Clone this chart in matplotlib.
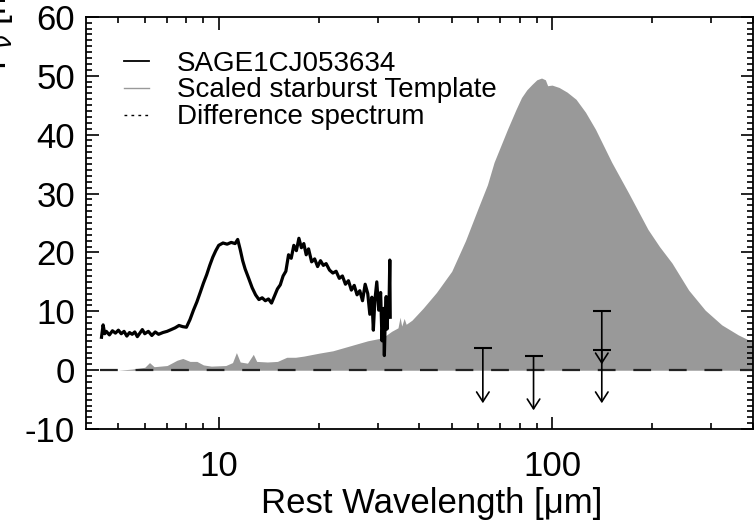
import matplotlib
matplotlib.use('Agg')
import matplotlib.pyplot as plt
from matplotlib.lines import Line2D
from matplotlib.ticker import MultipleLocator, FixedLocator, NullFormatter

plt.rcParams['font.family'] = ['Liberation Sans', 'DejaVu Sans']
plt.rcParams['axes.unicode_minus'] = False

# observed IRS spectrum
spec_wave = [4.45, 4.5, 4.55, 4.6, 4.7, 4.8, 4.9, 5.0, 5.1, 5.2, 5.3, 5.4, 5.5, 5.6, 5.7, 5.8,
             5.9, 6.0, 6.15, 6.3, 6.45, 6.6, 6.8, 7.0, 7.2, 7.4, 7.6, 7.8, 8.0, 8.2, 8.4, 8.6,
             8.8, 9.0, 9.2, 9.4, 9.6, 9.8, 10.0, 10.3, 10.6, 10.9, 11.2, 11.4, 11.6, 11.8, 12.0,
             12.3, 12.6, 12.9, 13.2, 13.5, 13.8, 14.1, 14.4, 14.7, 15.0, 15.3, 15.6, 15.9, 16.2,
             16.5, 16.8, 17.1, 17.4, 17.7, 18.0, 18.3, 18.6, 19.0, 19.4, 19.8, 20.2, 20.6, 21.0,
             21.5, 22.0, 22.5, 23.0, 23.5, 24.0, 24.5, 25.0, 25.5, 26.0, 26.5, 27.0, 27.5, 28.0,
             28.4, 28.8, 29.1, 29.4, 29.8, 30.2, 30.6, 30.9, 31.2, 31.4, 31.6, 31.8, 32.0, 32.2,
             32.4, 32.6, 32.7]
spec_flux = [5.6, 7.7, 6.2, 6.6, 6.0, 6.7, 6.3, 6.8, 6.2, 6.6, 5.8, 6.4, 6.1, 6.5, 5.7, 6.3,
             6.9, 6.2, 6.6, 5.9, 6.5, 6.1, 6.4, 6.6, 6.9, 7.2, 7.6, 7.4, 7.3, 8.6, 10.2, 11.6,
             13.2, 14.8, 16.2, 17.8, 19.2, 20.3, 21.2, 21.6, 21.4, 21.7, 21.5, 22.2, 20.5, 18.6,
             17.2, 15.6, 14.0, 12.8, 12.0, 12.3, 11.8, 12.1, 11.4, 12.6, 13.8, 14.5, 16.0, 16.8,
             19.6, 19.0, 21.2, 20.3, 22.4, 20.8, 21.5, 19.6, 20.6, 18.4, 18.9, 17.6, 18.6, 17.8,
             18.1, 17.0, 16.5, 16.8, 15.6, 16.0, 14.6, 15.2, 13.6, 14.4, 12.8, 13.5, 11.8, 14.6,
             13.0, 9.5, 12.4, 6.8, 11.8, 15.0, 10.2, 13.2, 5.0, 10.5, 2.5, 9.0, 12.5, 7.0, 11.0,
             9.5, 18.7, 9.0]

# scaled starburst template
tmpl_wave = [5.0, 5.5, 6.0, 6.2, 6.4, 7.0, 7.5, 7.8, 8.2, 8.6, 9.0, 9.5, 10.5, 11.0, 11.3,
             11.6, 12.2, 12.7, 13.0, 14.0, 15.0, 16.0, 17.0, 18.0, 20.0, 22.0, 25.0, 28.0,
             31.0, 33.0, 34.5, 35.0, 35.4, 36.0, 36.5, 38.0, 41.0, 45.0, 50.0, 55.0, 60.0,
             64.0, 67.0, 73.5, 78.0, 81.0, 84.0, 87.0, 90.0, 93.0, 95.5, 97.0, 100.0, 105.0,
             111.0, 118.0, 126.0, 135.0, 151.0, 170.0, 194.0, 210.0, 229.0, 257.0, 288.0,
             323.0, 362.0, 400.0]
tmpl_flux = [0.0, 0.2, 0.5, 1.3, 0.6, 0.8, 1.7, 2.0, 1.5, 1.5, 0.9, 0.7, 0.8, 1.3, 3.0,
             1.4, 1.2, 2.7, 1.5, 1.4, 1.5, 2.2, 2.2, 2.4, 2.9, 3.3, 4.2, 5.0,
             5.5, 6.6, 7.2, 9.0, 7.5, 8.8, 7.8, 8.5, 10.5, 13.2, 16.8, 22.0, 27.5,
             31.5, 35.3, 40.9, 44.3, 46.3, 47.6, 48.5, 49.3, 49.6, 49.3, 48.3, 48.4, 48.0,
             47.2, 46.0, 43.8, 40.9, 35.3, 30.0, 23.9, 21.0, 18.2, 13.6, 10.2,
             7.7, 6.0, 4.8]

# difference spectrum (~0 across the range)
diff_wave = [4.4, 400.0]
diff_flux = [0.0, 0.0]

# upper limits (photometry minus template)
ul_wave = [62.0, 88.0, 141.0, 141.0]
ul_top = [3.7, 2.4, 10.0, 3.4]
ul_tip = [-5.6, -6.8, -5.6, 1.0]

fig = plt.figure(figsize=(7.55, 5.24), dpi=100)
ax = fig.add_axes([0.114, 0.181, 0.883, 0.787])

ax.fill_between(tmpl_wave, 0, tmpl_flux, color='#999999', lw=0, zorder=1)
ax.plot(spec_wave, spec_flux, color='black', lw=2.3, zorder=3)
ax.plot(diff_wave, diff_flux, color='#222222', lw=1.6, dashes=(8, 8), zorder=2)

for w, top, tip in zip(ul_wave, ul_top, ul_tip):
    ax.annotate('', xy=(w, tip), xytext=(w, top),
                arrowprops=dict(arrowstyle='->,head_length=0.7,head_width=0.45',
                                color='black', lw=1.2, shrinkA=0, shrinkB=0), zorder=4)
ax.plot(ul_wave, ul_top, ls='none', marker='_', ms=13, mew=1.5, color='black', zorder=4)

ax.set_xscale('log')
ax.set_xlim(4, 400)
ax.set_ylim(-10, 60)
ax.set_xticks([10, 100])
ax.set_xticklabels(['10', '100'])
ax.xaxis.set_minor_locator(FixedLocator([5, 6, 7, 8, 9, 20, 30, 40, 50, 60, 70, 80, 90, 200, 300, 400]))
ax.xaxis.set_minor_formatter(NullFormatter())
ax.yaxis.set_major_locator(MultipleLocator(10))
ax.yaxis.set_minor_locator(MultipleLocator(1))

ax.tick_params(which='both', direction='in', top=True, right=True, width=1.2, labelsize=25)
ax.tick_params(which='major', length=9)
ax.tick_params(which='minor', length=4.5)
ax.tick_params(axis='x', which='major', pad=15)
ax.tick_params(axis='y', which='major', pad=8)
for s in ax.spines.values():
    s.set_linewidth(1.3)

ax.set_xlabel('Rest Wavelength [\u03bcm]', fontsize=25, labelpad=3)
ax.xaxis.label.set_x(0.519)
fig.text(-0.004, 1 - 70 / 524, r'F$_\nu$ [mJy]', rotation=90, ha='center', va='bottom', fontsize=25)

handles = [Line2D([], [], color='black', lw=1.3),
           Line2D([], [], color='#999999', lw=1.0),
           Line2D([], [], color='black', lw=1.0, ls=(0, (2, 3)))]
labels = ['SAGE1CJ053634', 'Scaled starburst Template', 'Difference spectrum']
ax.legend(handles, labels, loc='upper left', bbox_to_anchor=(0.04, 0.945), frameon=False,
          fontsize=20, handlelength=0.9, handletextpad=1.0, labelspacing=0.03,
          borderaxespad=0)

fig.savefig('out.png', dpi=100)
